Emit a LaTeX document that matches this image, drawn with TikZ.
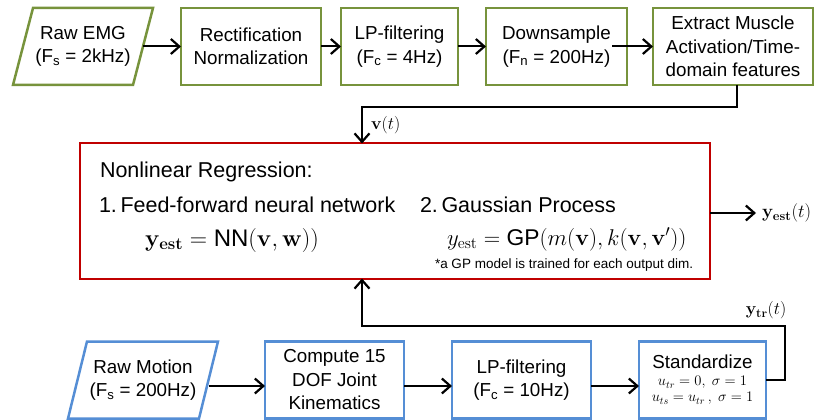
\RequirePackage{fix-cm}
\documentclass[tikz,border=0pt]{standalone}
\usepackage[no-math]{fontspec}
\setmainfont{Liberation Sans}
\usetikzlibrary{arrows.meta,calc}
\definecolor{boxgreen}{HTML}{77933C}
\definecolor{boxblue}{HTML}{558ED5}
\definecolor{regred}{HTML}{C00000}

\begin{document}
\begin{tikzpicture}[x=1pt,y=-1pt,
  every node/.style={inner sep=0pt, outer sep=0pt},
  boxfont/.style={font=\fontsize{18.8}{23.5}\selectfont},
  emgbox/.style={boxfont, draw=boxgreen, line width=2.5pt, minimum height=77pt, align=center},
  motbox/.style={boxfont, draw=boxblue, line width=2.5pt, minimum height=77pt, align=center},
  slantbox/.style={boxfont, minimum height=77pt, align=center},
  link/.style={line width=2pt, line join=miter, -{Straight Barb[length=8.5pt,width=15pt,line width=2.2pt]}},
  regtext/.style={anchor=base west, font=\fontsize{21.5}{26}\selectfont},
  formula/.style={anchor=base west, font=\fontsize{24}{28}\selectfont},
  sig/.style={font=\fontsize{17.5}{20}\selectfont}]
\useasboundingbox (0,0) rectangle (815,420);

% ---- EMG chain ----
\node[slantbox, minimum width=120pt] (emg) at (83,46.5) {Raw EMG\\(F\textsubscript{s} = 2kHz)};
\draw[boxgreen, line width=2.5pt, line join=miter]
  ($(emg.south west)+(-10,0)$) -- ($(emg.north west)+(10,0)$) --
  ($(emg.north east)+(10,0)$) -- ($(emg.south east)+(-10,0)$) -- cycle;
\node[emgbox, minimum width=140pt] (rect) at (251,46.5) {Rectification\\Normalization};
\node[emgbox, minimum width=117pt] (lpa) at (399.5,46.5) {LP-filtering\\(F\textsubscript{c} = 4Hz)};
\node[emgbox, minimum width=141pt] (down) at (556.5,46.5) {Downsample\\(F\textsubscript{n} = 200Hz)};
\node[emgbox, minimum width=160pt] (extract) at (733,46.5) {Extract Muscle\\Activation/Time-\\domain features};

\draw[link] (emg.east) -- (rect.west);
\draw[link] (rect.east) -- (lpa.west);
\draw[link] (lpa.east) -- (down.west);
\draw[link] ([xshift=-15pt]down.east) -- (extract.west);

% ---- regression block ----
\node[draw=regred, line width=2pt, minimum width=630pt, minimum height=135pt] (reg) at (395,211) {};
\node[regtext] (title) at (100,178) {Nonlinear Regression:};
\node[regtext] (nn) at (99,212) {1.\,Feed-forward neural network};
\node[formula] (nnf) at (145,246) {$\mathbf{y}_{\mathbf{est}} = \mbox{NN}(\mathbf{v},\mathbf{w}))$};
\node[regtext] (gp) at (420,212) {2.\,Gaussian Process};
\node[formula, font=\fontsize{22.8}{26}\selectfont] (gpf) at (447,245) {$y_{\mathrm{est}} = \mbox{GP}(m(\mathbf{v}),k(\mathbf{v},\mathbf{v}'))$};
\node[anchor=base west, font=\fontsize{13.5}{15}\selectfont] (note) at (435,268) {*a GP model is trained for each output dim.};

% feature vector into the regression
\coordinate (vR) at (737,107);
\coordinate (vL) at (362,107);
\draw[link] (extract.south -| vR) -- (vR) -- (vL) -- (reg.north -| vL);
\node[sig, anchor=west] (vlab) at (371,125) {$\mathbf{v}(t)$};

% estimate out
\node[sig, anchor=west, font=\fontsize{18.5}{20}\selectfont] (yest) at (762,213) {$\mathbf{y}_{\mathbf{est}}(t)$};
\draw[link] (reg.east |- yest) -- ([xshift=-6pt]yest.west);

% ---- motion chain ----
\node[slantbox, minimum width=131pt] (motion) at (143,380) {Raw Motion\\(F\textsubscript{s} = 200Hz)};
\draw[boxblue, line width=2.5pt, line join=miter]
  ($(motion.south west)+(-9.5,0)$) -- ($(motion.north west)+(9.5,0)$) --
  ($(motion.north east)+(9.5,0)$) -- ($(motion.south east)+(-9.5,0)$) -- cycle;
\node[motbox, minimum width=139pt] (comp) at (334.5,380) {Compute 15\\DOF Joint\\Kinematics};
\node[motbox, minimum width=139pt] (lpb) at (521.5,380) {LP-filtering\\(F\textsubscript{c} = 10Hz)};
\node[motbox, minimum width=127pt, font=\fontsize{14.6}{16}\selectfont] (std) at (702.5,380)
  {{\fontsize{18.8}{22}\selectfont Standardize}\\[1pt] $u_{tr}=0,\ \sigma=1$\\ $u_{ts}=u_{tr}\,,\ \sigma=1$};

\draw[link] ([yshift=-6pt]motion.east) -- ([yshift=-6pt]comp.west);
\draw[link] ([yshift=-6pt]comp.east) -- ([yshift=-6pt]lpb.west);
\draw[link] ([yshift=-6pt]lpb.east) -- ([yshift=-6pt]std.west);

% training targets back into the regression
\coordinate (fbR) at (785,326);
\coordinate (fbL) at (362,326);
\draw[link] (std.east) -| (fbR) -- (fbL) -- (reg.south -| fbL);
\node[sig] (ytr) at (766,310) {$\mathbf{y}_{\mathbf{tr}}(t)$};
\end{tikzpicture}
\end{document}
